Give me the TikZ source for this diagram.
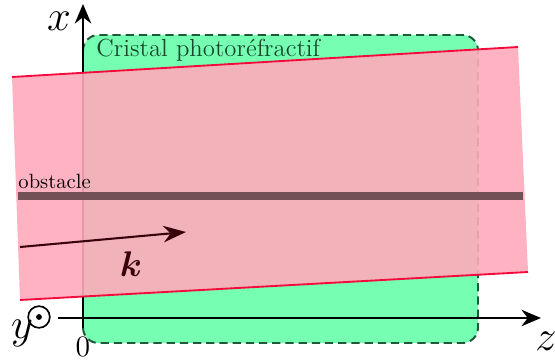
\documentclass[tikz,border=0pt]{standalone}
\usepackage{amsmath,bm}
\usetikzlibrary{arrows.meta,calc,positioning}
\definecolor{cristal}{RGB}{118,255,178}
\definecolor{cristalbord}{RGB}{30,90,55}
\definecolor{faisceau}{RGB}{255,170,186}
\definecolor{bordrouge}{RGB}{245,10,60}
\definecolor{obst}{RGB}{115,80,86}
\definecolor{kvec}{RGB}{55,0,10}
\tikzset{axe/.style={line width=.75pt,-{Stealth[length=9.5pt,width=8pt]}}}

\begin{document}
\begin{tikzpicture}[x=0.485pt,y=-0.485pt]
 \useasboundingbox(0,0)rectangle(555,361);
 \fill[cristal,rounded corners=7.5pt](83,35)rectangle(478,343);
 \draw[cristalbord,line width=.95pt,dash pattern=on 4pt off 2.4pt,rounded corners=7.5pt](83,35)rectangle(478,343);
 \node[anchor=north west,text=cristalbord!80!black,font=\large,inner sep=1pt](cristal)at(94,37){Cristal photor\'efractif};
 \coordinate(xbas)at(83,328);\coordinate(xhaut)at(83,4);
 \coordinate(zgauche)at(58,318);\coordinate(zdroite)at(541,318);
 \draw[axe](xbas)--(xhaut);
 \draw[axe](zgauche)--(zdroite);
 \coordinate(b1)at(12,77);\coordinate(b2)at(518,47);\coordinate(b3)at(528,272);\coordinate(b4)at(20,300);
 \fill[faisceau,opacity=.9](b1)--(b2)--(b3)--(b4)--cycle;
 \draw[bordrouge,line width=.9pt](b1)--(b2);
 \draw[bordrouge,line width=.9pt](b4)--(b3);
 \coordinate(og)at(18,196);\coordinate(od)at(523,196);
 \draw[obst,line width=4pt](og)--(od);
 \node[anchor=south west,inner sep=1pt](obstacle)at(16,191){obstacle};
 \coordinate(kdep)at(20,247);\coordinate(karr)at(186,232);
 \draw[kvec,line width=1pt,-{Stealth[length=11pt,width=8pt]}](kdep)--(karr);
 \node[text=kvec,font=\LARGE](k)at(131,264){$\bm{k}$};
 \node[font=\huge,inner sep=0pt](xlab)at(59,21){$x$};
 \node[font=\huge](zlab)at(546,341){$z$};
 \node[font=\huge](ylab)at(22,333){$y$};
 \node[circle,draw,line width=.8pt,minimum size=10.5pt,inner sep=0pt](ydot)at(39,317){};
 \fill(ydot.center)circle(1.4pt);
 \node[font=\Large](zero)at(83,347){$0$};
\end{tikzpicture}
\end{document}
